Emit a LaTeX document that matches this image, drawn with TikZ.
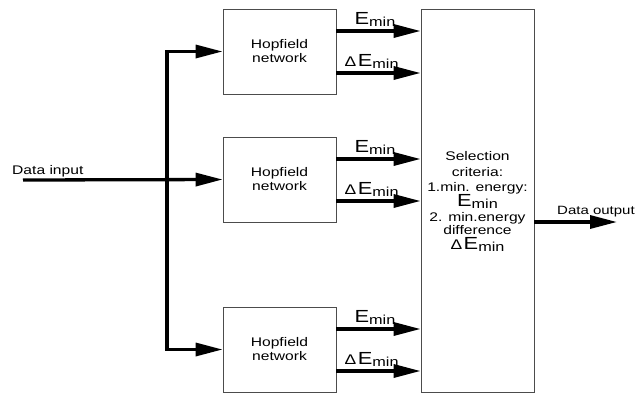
\documentclass[tikz,border=0pt]{standalone}
\usepackage{fontspec}
\setmainfont{Liberation Sans}[FakeStretch=1.25]
\usetikzlibrary{arrows.meta}
\newcommand{\Emin}{{\fontsize{17.5}{17.5}\selectfont E}{\fontsize{13}{13}\selectfont\raisebox{-2.5pt}{min}}}
\newcommand{\dEmin}{{\fontsize{14}{14}\selectfont Δ}\hspace{1.5pt}\Emin}
\begin{document}
\begin{tikzpicture}[x=1pt,y=-1pt,
  box/.style={draw=black!70, line width=0.8pt, minimum width=113pt, minimum height=85pt, inner sep=0pt, align=center, font=\fontsize{12.5}{14}\selectfont},
  selbox/.style={draw=black!70, line width=0.8pt, minimum width=113pt, minimum height=383pt, inner sep=0pt},
  arr/.style={line width=3.3pt, -{Triangle[length=27pt,width=13pt]}},
  lab/.style={anchor=base west, inner sep=0pt},
  small/.style={anchor=base, inner sep=0pt, font=\fontsize{12.5}{14}\selectfont},
  txt/.style={anchor=base west, inner sep=0pt, font=\fontsize{12.5}{14}\selectfont}]
\useasboundingbox (0,0) rectangle (636,394);
% boxes
\node[box] (h1) at (279.5,51.5) {Hopfield\\network};
\node[box] (h2) at (279.5,179.5) {Hopfield\\network};
\node[box] (h3) at (279.5,349.5) {Hopfield\\network};
\node[selbox] (sel) at (477.5,200.5) {};
% selection text
\node[small] (s1) at (477.5,160) {Selection};
\node[small] (s2) at (477.5,176) {criteria:};
\node[small] (s3) at (477.5,191) {1.min. energy:};
\node[anchor=base, inner sep=0pt] (s4) at (477.5,206) {\Emin};
\node[small] (s5) at (477.5,221) {2. min.energy};
\node[small] (s6) at (477.5,234) {difference};
\node[anchor=base, inner sep=0pt] (s7) at (477.5,249) {\dEmin};
% input
\coordinate (in) at (23,180);
\coordinate (split) at (167,180);
\node[txt] (din) at (12,174) {Data input};
\draw[arr] (in) -- (h2.west);
\draw[arr] (split) |- (h1.west);
\draw[arr] (split) |- (h3.west);
% outputs of Hopfield networks
\foreach \h in {h1,h2,h3}{
  \coordinate (\h a) at ([yshift=20.5pt]\h.east);
  \coordinate (\h b) at ([yshift=-21.5pt]\h.east);
  \draw[arr] (\h a) -- (\h a -| sel.west);
  \draw[arr] (\h b) -- (\h b -| sel.west);
  \node[lab] (\h la) at ([xshift=18pt,yshift=7pt]\h a) {\Emin};
  \node[lab] (\h lb) at ([xshift=8pt,yshift=7pt]\h b) {\dEmin};
}
% output
\coordinate (oy) at (0,222);
\coordinate (oend) at (617,222);
\draw[arr] (sel.east |- oy) -- (oend);
\node[anchor=base west, inner sep=0pt, font=\fontsize{12}{14}\selectfont] (dout) at (557,214) {Data output};
\end{tikzpicture}
\end{document}
